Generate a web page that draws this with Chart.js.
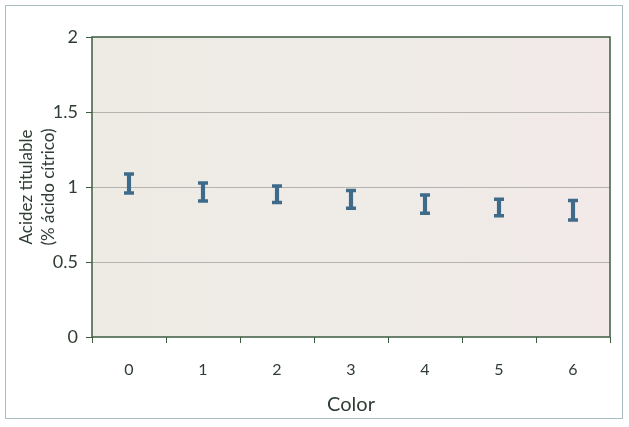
<!DOCTYPE html>
<html>
<head>
<meta charset="utf-8">
<script src="https://cdn.jsdelivr.net/npm/chart.js@4"></script>
<style>
  body { margin: 0; background: #ffffff; }
  #frame { position: absolute; left: 5px; top: 5px; width: 616px; height: 412px; border: 1px solid #a9bcc4; }
  #wrap { position: absolute; left: 0; top: 0; width: 629px; height: 427px; }
</style>
</head>
<body>
<div id="frame"></div>
<div id="wrap"><canvas id="errChart" width="629" height="427"></canvas></div>
<script>
const categories = ["0", "1", "2", "3", "4", "5", "6"];
const means = [1.023, 0.967, 0.952, 0.917, 0.886, 0.863, 0.845];
const errors = [0.063, 0.060, 0.055, 0.059, 0.061, 0.055, 0.065];
const yTicks = [0, 0.5, 1, 1.5, 2];

const textColor = "#2f3d33";
const axisColor = "#3d5c40";
const barColor = "#3f6b8b";

const lows = means.map((m, i) => m - errors[i]);
const highs = means.map((m, i) => m + errors[i]);

// plot background + frame round the plot area
const plotFrame = {
  id: "plotFrame",
  beforeDraw(chart) {
    const {ctx, chartArea: a} = chart;
    ctx.save();
    const g = ctx.createLinearGradient(a.left, 0, a.right, 0);
    g.addColorStop(0, "#eeebe5");
    g.addColorStop(0.6, "#efebe7");
    g.addColorStop(1, "#f2e9e8");
    ctx.fillStyle = g;
    ctx.fillRect(a.left, a.top, a.right - a.left, a.bottom - a.top);
    ctx.restore();
  },
  afterDraw(chart) {
    const {ctx, chartArea: a} = chart;
    ctx.save();
    ctx.strokeStyle = axisColor;
    ctx.lineWidth = 1.5;
    ctx.strokeRect(a.left, a.top, a.right - a.left, a.bottom - a.top);
    ctx.restore();
  }
};

const capStyle = {
  type: "line",
  showLine: false,
  pointStyle: "line",
  pointRadius: 5,
  pointBorderWidth: 3.5,
  borderColor: barColor,
  backgroundColor: barColor,
};

const ctx = document.getElementById("errChart").getContext("2d");
new Chart(ctx, {
  type: "bar",
  data: {
    labels: categories,
    datasets: [
      { ...capStyle, data: highs },
      { ...capStyle, data: lows },
      {
        data: lows.map((lo, i) => [lo, highs[i]]),
        backgroundColor: barColor,
        borderWidth: 0,
        barThickness: 3.5,
      },
    ],
  },
  options: {
    responsive: false,
    animation: false,
    layout: { padding: { top: 37, right: 19, bottom: 0, left: 0 } },
    plugins: {
      legend: { display: false },
      tooltip: { enabled: false },
    },
    scales: {
      x: {
        grid: {
          color: "rgba(0,0,0,0)",
          tickColor: axisColor,
          tickLength: 6,
          offset: true,
        },
        border: { display: false },
        ticks: {
          color: textColor,
          padding: 17,
          font: { family: "Lato", size: 16 },
        },
        title: {
          display: true,
          text: "Color",
          color: textColor,
          font: { family: "Lato", size: 20 },
          padding: { top: 0, bottom: 10 },
        },
        afterFit: (s) => { s.height = 90; },
      },
      y: {
        min: 0,
        max: 2,
        afterBuildTicks: (s) => { s.ticks = yTicks.map((v) => ({ value: v })); },
        grid: {
          color: (c) => (c.tick && (c.tick.value === 0 || c.tick.value === 2) ? "rgba(0,0,0,0)" : "#b4b2ae"),
          tickColor: axisColor,
          tickLength: 6,
        },
        border: { display: false },
        ticks: {
          color: textColor,
          padding: 8,
          font: { family: "Lato", size: 18 },
          callback: (v) => String(v),
        },
        title: {
          display: true,
          text: ["Acidez titulable", "(% ácido cítrico)"],
          color: textColor,
          font: { family: "Lato", size: 17, lineHeight: 1.3 },
          padding: { top: 15, bottom: 0 },
        },
        afterFit: (s) => { s.width = 92; },
      },
    },
  },
  plugins: [plotFrame],
});
</script>
</body>
</html>
